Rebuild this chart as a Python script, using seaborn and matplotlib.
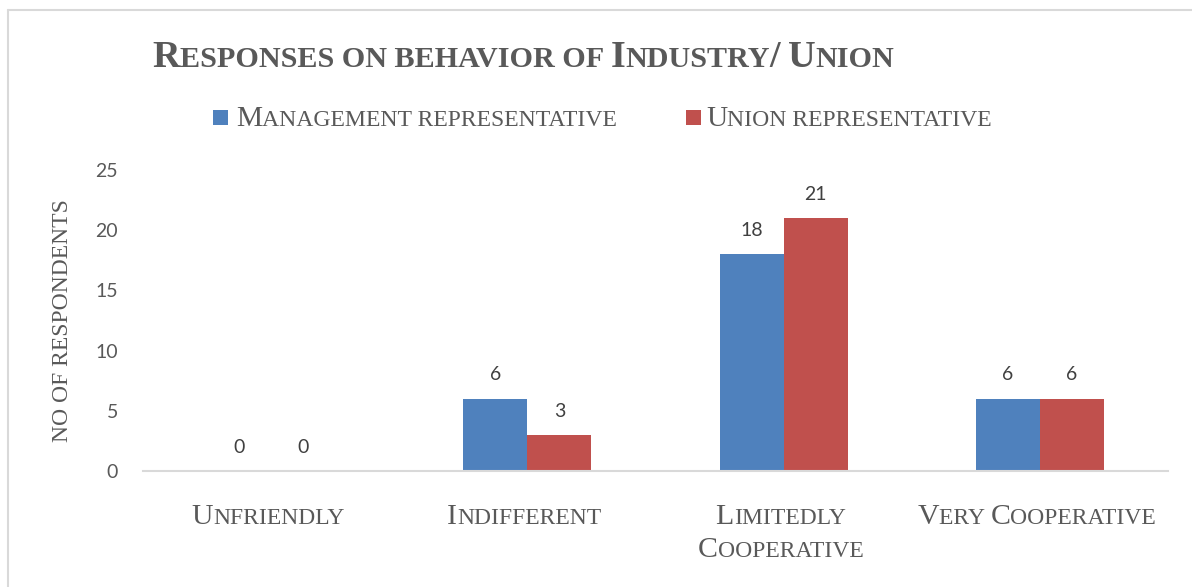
import matplotlib
matplotlib.use("Agg")
import matplotlib.pyplot as plt
import seaborn as sns
import pandas as pd
from matplotlib.font_manager import FontProperties
from matplotlib.transforms import IdentityTransform
from matplotlib.lines import Line2D
from matplotlib.patches import Rectangle

# ---------------- data ----------------
categories = ["Unfriendly", "Indifferent", "Limitedly\nCooperative", "Very Cooperative"]
series_names = ["Management representative", "Union representative"]
management = [0, 6, 18, 6]
union = [0, 3, 21, 6]
y_ticks = [0, 5, 10, 15, 20, 25]
title_text = "Responses on behavior of Industry/ Union"
y_label = "NO OF RESPONDENTS"

colors = ["#4F81BD", "#C0504D"]
TXT = "#595959"
W, H = 1192, 587

df = pd.DataFrame({
    "category": categories * 2,
    "series": [series_names[0]] * len(categories) + [series_names[1]] * len(categories),
    "value": management + union,
})

sns.set_theme(style="white")
plt.rcParams["font.family"] = ["Liberation Serif", "DejaVu Sans"]

fig = plt.figure(figsize=(W / 100, H / 100), dpi=100)
ax = fig.add_axes([143 / W, 116 / H, 1025 / W, 301 / H])

sns.barplot(data=df, x="category", y="value", hue="series", order=categories,
            hue_order=series_names, palette=colors, width=0.5, gap=0,
            linewidth=0, saturation=1, legend=False, ax=ax)

ax.set_ylim(0, 25)
ax.set_xlim(-0.5, len(categories) - 0.5)
ax.set_yticks(y_ticks)
ax.set_yticklabels([str(v) for v in y_ticks], fontfamily="Lato", fontsize=14, color=TXT)
ax.tick_params(axis="y", length=0, pad=18)
ax.set_xticks(range(len(categories)))
ax.set_xticklabels([""] * len(categories))
ax.tick_params(axis="x", length=0)
ax.set_xlabel("")
for s in ["top", "right", "left"]:
    ax.spines[s].set_visible(False)
ax.spines["bottom"].set_color("#D9D9D9")
ax.spines["bottom"].set_linewidth(1.5)
ax.grid(False)

for cont in ax.containers:
    ax.bar_label(cont, fmt="%d", padding=11, fontfamily="Lato", fontsize=14, color="#404040")

ax.set_ylabel(y_label, fontfamily="Liberation Serif", fontsize=17, color=TXT, va="center")
ax.yaxis.set_label_coords((63 - 143) / 1025, 0.5)

# ---------------- small caps helper ----------------
renderer = fig.canvas.get_renderer()


def runs_of(text):
    runs = []
    for ch in text:
        big = not ch.islower() and ch != " "
        s = ch.upper()
        if runs and runs[-1][1] == big:
            runs[-1][0] += s
        else:
            runs.append([s, big])
    return runs


def adv(s, prop):
    w1, _, _ = renderer.get_text_width_height_descent(s + "x", prop, ismath=False)
    w2, _, _ = renderer.get_text_width_height_descent("x", prop, ismath=False)
    return w1 - w2


def smallcaps(x, y, text, size, ratio, ha="left", weight="normal", color=TXT):
    pb = FontProperties(family="Liberation Serif", size=size, weight=weight)
    ps = FontProperties(family="Liberation Serif", size=size * ratio, weight=weight)
    runs = runs_of(text)
    widths = [adv(s, pb if big else ps) for s, big in runs]
    total = sum(widths)
    x0 = x - total / 2 if ha == "center" else x
    for (s, big), w in zip(runs, widths):
        fig.text(x0, y, s, fontproperties=pb if big else ps, color=color,
                 ha="left", va="baseline", transform=IdentityTransform())
        x0 += w


# title
smallcaps(152, H - 67, title_text, 27.5, 0.79, weight="bold")

# legend
for (sx, tx), name, col in zip([(213, 236), (686, 706)], series_names, colors):
    fig.add_artist(Rectangle((sx, H - 125), 15, 15, facecolor=col, edgecolor="none",
                             transform=IdentityTransform()))
    smallcaps(tx, H - 126, name, 21.2, 0.805)

# x tick labels
for i, cat in enumerate(categories):
    cx = ax.transData.transform((i, 0))[0] - 3
    for j, line in enumerate(cat.split("\n")):
        smallcaps(cx, H - 524 - j * 33, line, 21.5, 0.79, ha="center")

# chart frame
fig.add_artist(Line2D([7.5, 7.5], [0, H - 9.5], color="#D9D9D9", lw=1.5, transform=IdentityTransform()))
fig.add_artist(Line2D([7.5, W], [H - 9.5, H - 9.5], color="#D9D9D9", lw=1.5, transform=IdentityTransform()))

fig.savefig("out.png", dpi=100, facecolor="white")
